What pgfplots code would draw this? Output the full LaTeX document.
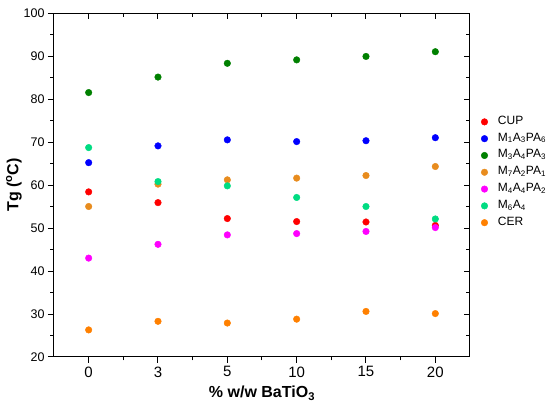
\documentclass[border=0pt]{standalone}
\usepackage{fontspec}
\setmainfont{Liberation Sans}
\usepackage{pgfplots}
\pgfplotsset{compat=1.18}
\definecolor{cCUP}{RGB}{255,0,0}
\definecolor{cMa}{RGB}{0,0,255}
\definecolor{cMb}{RGB}{0,128,0}
\definecolor{cMc}{RGB}{232,140,30}
\definecolor{cMd}{RGB}{255,0,255}
\definecolor{cMe}{RGB}{0,220,130}
\definecolor{cCER}{RGB}{255,128,0}
\begin{document}
\begin{tikzpicture}
\useasboundingbox (-54pt,-53pt) rectangle (496pt,357pt);
\begin{axis}[at={(0,0)}, anchor=south west, scale only axis, width=416pt, height=344pt,
  xmin=-0.5, xmax=5.5, ymin=20, ymax=100,
  xtick={0,1,2,3,4,5}, xticklabels={0,3,5,10,15,20},
  minor xtick={0.5,1.5,2.5,3.5,4.5},
  ytick={20,30,...,100}, minor ytick={25,35,...,95},
  tick align=outside, xtick pos=bottom, ytick pos=left,
  major tick length=6pt, minor tick length=3.5pt,
  axis line style={line width=1pt}, every tick/.style={line width=1pt, black},
  /pgf/number format/assume math mode=true,
  xticklabel style={font=\fontsize{15}{15}\selectfont},
  yticklabel style={font=\fontsize{12.5}{12.5}\selectfont},
  xlabel={\% w/w BaTiO\textsubscript{3}},
  ylabel={Tg (\textsuperscript{o}C)},
  xlabel style={font=\bfseries\fontsize{16}{16}\selectfont, at={(axis description cs:0.5,0)}, anchor=center, yshift=-36pt},
  ylabel style={font=\bfseries\fontsize{16}{16}\selectfont, at={(axis description cs:0,0.5)}, anchor=center, yshift=40pt},
  legend style={at={(1,0.537)}, anchor=west, xshift=11pt, draw=none, fill=none,
    font=\fontsize{12}{12}\selectfont, inner sep=0pt, column sep=7pt, row sep=0.4pt,
    nodes={text height=7.5pt, text depth=2.5pt, inner sep=3.2pt}},
  legend cell align=left,
  every axis plot/.append style={only marks, mark=*, mark size=3.3pt},
]
\addplot[color=cCUP] coordinates {(0,58.4)(1,55.9)(2,52.2)(3,51.5)(4,51.4)(5,50.6)};
\addlegendentry{CUP}
\addplot[color=cMa] coordinates {(0,65.2)(1,69.1)(2,70.5)(3,70.1)(4,70.3)(5,71.0)};
\addlegendentry{M\textsubscript{1}A\textsubscript{3}PA\textsubscript{6}}
\addplot[color=cMb] coordinates {(0,81.5)(1,85.1)(2,88.3)(3,89.1)(4,89.9)(5,91.0)};
\addlegendentry{M\textsubscript{3}A\textsubscript{4}PA\textsubscript{3}}
\addplot[color=cMc] coordinates {(0,55.0)(1,60.2)(2,61.2)(3,61.6)(4,62.2)(5,64.3)};
\addlegendentry{M\textsubscript{7}A\textsubscript{2}PA\textsubscript{1}}
\addplot[color=cMd] coordinates {(0,43.0)(1,46.2)(2,48.4)(3,48.7)(4,49.2)(5,50.1)};
\addlegendentry{M\textsubscript{4}A\textsubscript{4}PA\textsubscript{2}}
\addplot[color=cMe] coordinates {(0,68.7)(1,60.8)(2,59.8)(3,57.1)(4,55.0)(5,52.1)};
\addlegendentry{M\textsubscript{6}A\textsubscript{4}}
\addplot[color=cCER] coordinates {(0,26.3)(1,28.3)(2,27.9)(3,28.8)(4,30.6)(5,30.1)};
\addlegendentry{CER}
\end{axis}
\begin{axis}[at={(0,0)}, anchor=south west, scale only axis, width=416pt, height=344pt,
  xmin=-0.5, xmax=5.5, ymin=20, ymax=100,
  xtick={0,1,2,3,4,5}, minor xtick={0.5,1.5,2.5,3.5,4.5},
  ytick={20,30,...,100}, minor ytick={25,35,...,95},
  tick align=inside, xtick pos=top, ytick pos=right,
  xticklabels={,,}, yticklabels={,,},
  major tick length=6pt, minor tick length=3.5pt,
  axis line style={line width=1pt}, every tick/.style={line width=1pt, black},
]
\addplot[draw=none] coordinates {(0,50)};
\end{axis}
\end{tikzpicture}
\end{document}
